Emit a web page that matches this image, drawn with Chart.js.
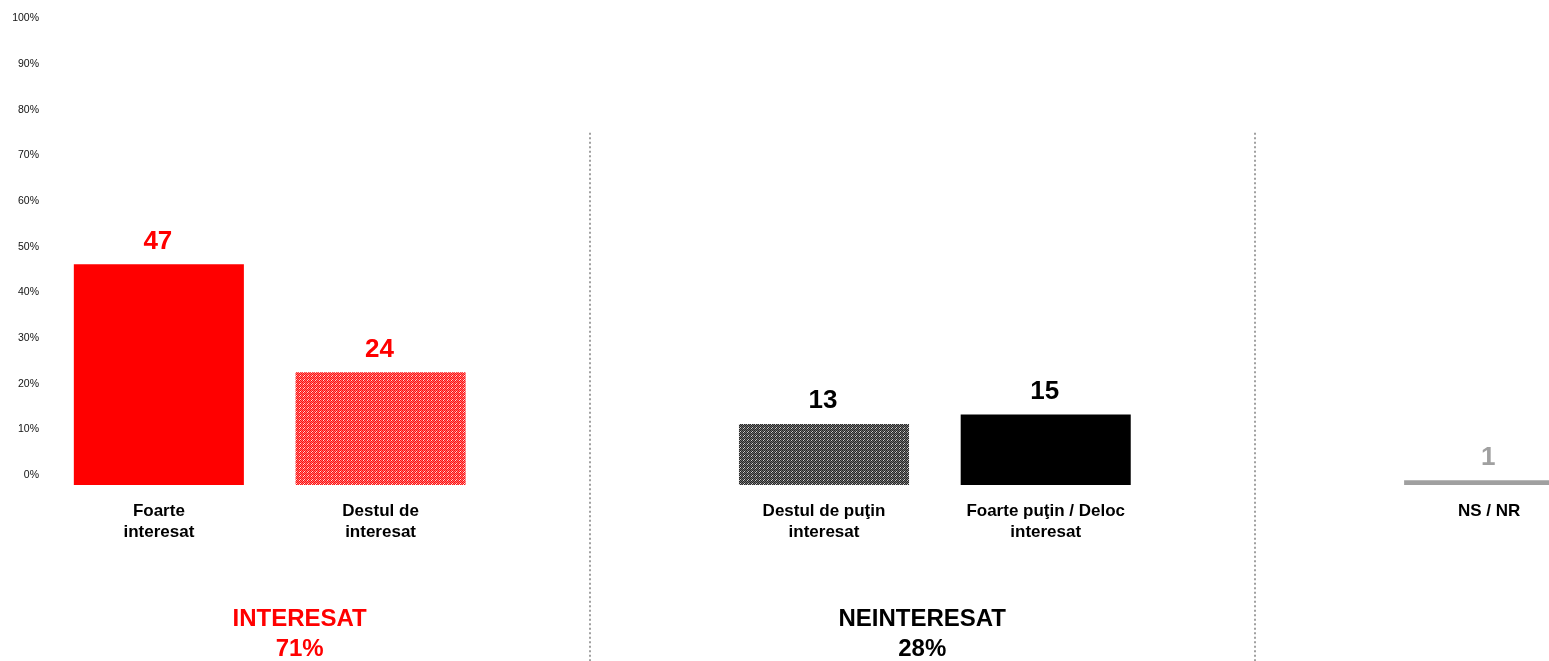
<!DOCTYPE html>
<html>
<head>
<meta charset="utf-8">
<script src="https://cdn.jsdelivr.net/npm/chart.js@4/dist/chart.umd.min.js"></script>
<style>
  html, body { margin: 0; padding: 0; background: #fff; overflow: hidden; }
  #wrap { width: 1600px; height: 661px; }
</style>
</head>
<body>
<div id="wrap"><canvas id="c" width="1600" height="661"></canvas></div>
<script>
// ---- data ----
const categories = [
  ['Foarte', 'interesat'],
  ['Destul de', 'interesat'],
  '',
  ['Destul de puţin', 'interesat'],
  ['Foarte puţin / Deloc', 'interesat'],
  '',
  'NS / NR'
];
const values = [47, 24, null, 13, 15, null, 1];
const valueLabelColors = ['#ff0000', '#ff0000', null, '#000000', '#000000', null, '#a0a0a0'];
const yTickValues = [0, 10, 20, 30, 40, 50, 60, 70, 80, 90, 100];
const yTickLabels = ['0%', '10%', '20%', '30%', '40%', '50%', '60%', '70%', '80%', '90%', '100%'];
const groupNames = ['INTERESAT', 'NEINTERESAT'];
const groupTotals = ['71%', '28%'];
const groupColors = ['#ff0000', '#000000'];

const FONT = "'Liberation Sans', Arial, Helvetica, sans-serif";
Chart.defaults.font.family = FONT;

function makePattern(base, light, white) {
  const t = document.createElement('canvas');
  t.width = 4; t.height = 4;
  const g = t.getContext('2d');
  const map = [
    [0, 1, 0, 2],
    [1, 0, 1, 0],
    [0, 1, 0, 1],
    [2, 0, 1, 0]
  ];
  const cols = [base, light, white];
  for (let r = 0; r < 4; r++) for (let c = 0; c < 4; c++) {
    g.fillStyle = cols[map[r][c]];
    g.fillRect(c, r, 1, 1);
  }
  return g.createPattern(t, 'repeat');
}
const ctx = document.getElementById('c').getContext('2d');
const redPattern = makePattern('#ff1010', '#ff7070', '#ffd8d8');
const darkPattern = makePattern('#262626', '#707070', '#cccccc');
const barColors = ['#ff0000', redPattern, null, darkPattern, '#000000', null, '#a0a0a0'];

const valueLabels = {
  id: 'valueLabels',
  afterDatasetsDraw(chart) {
    const c = chart.ctx;
    const meta = chart.getDatasetMeta(0);
    c.save();
    c.font = 'bold 26px ' + FONT;
    c.textAlign = 'center';
    c.textBaseline = 'alphabetic';
    meta.data.forEach((bar, i) => {
      if (values[i] == null) return;
      c.fillStyle = valueLabelColors[i];
      c.fillText(String(values[i]), bar.x - 1, bar.y - 15.5);
    });
    c.restore();
  }
};

const decorations = {
  id: 'decorations',
  afterDraw(chart) {
    const c = chart.ctx;
    const xs = chart.scales.x;
    const ys = chart.scales.y;
    const cw = xs.getPixelForValue(1) - xs.getPixelForValue(0);
    const div1 = xs.getPixelForValue(2) - 0.057 * cw;
    const div2 = xs.getPixelForValue(5) - 0.057 * cw;
    const top = ys.getPixelForValue(75);
    c.save();
    c.strokeStyle = '#a0a0a0';
    c.lineWidth = 2;
    c.setLineDash([2, 2.5]);
    [div1, div2].forEach(x => {
      c.beginPath();
      c.moveTo(Math.round(x), top);
      c.lineTo(Math.round(x), chart.height);
      c.stroke();
    });
    c.setLineDash([]);
    const centers = [div1 - 290, (div1 + div2) / 2];
    c.font = 'bold 24px ' + FONT;
    c.textAlign = 'center';
    c.textBaseline = 'alphabetic';
    groupNames.forEach((name, i) => {
      c.fillStyle = groupColors[i];
      c.fillText(name, centers[i], 626);
      c.fillText(groupTotals[i], centers[i], 656);
    });
    c.restore();
  }
};

new Chart(ctx, {
  type: 'bar',
  data: {
    labels: categories,
    datasets: [{
      data: values,
      backgroundColor: barColors,
      borderWidth: 0,
      barPercentage: 0.767,
      categoryPercentage: 1.0
    }]
  },
  options: {
    responsive: false,
    animation: false,
    devicePixelRatio: 1,
    layout: { padding: { top: 15, right: 0, left: 0, bottom: 0 } },
    plugins: { legend: { display: false }, tooltip: { enabled: false } },
    scales: {
      x: {
        grid: { display: false, drawTicks: false },
        border: { display: false },
        ticks: {
          color: '#000',
          font: { size: 17, weight: 'bold', lineHeight: 1.24 },
          padding: 16,
          maxRotation: 0,
          autoSkip: false
        },
        afterFit(s) { s.height = 176; }
      },
      y: {
        display: false,
        min: 0,
        max: 100
      },
      yt: {
        type: 'linear',
        position: 'left',
        min: -2.19,
        max: 100.65,
        grid: { display: false, drawTicks: false },
        border: { display: false },
        afterBuildTicks(s) { s.ticks = yTickValues.map(v => ({ value: v })); },
        ticks: {
          includeBounds: false,
          color: '#111',
          font: { size: 10.5 },
          padding: 9,
          callback: (v) => yTickLabels[yTickValues.indexOf(v)]
        },
        afterFit(s) { s.width = 48; }
      }
    }
  },
  plugins: [valueLabels, decorations]
});
</script>
</body>
</html>
